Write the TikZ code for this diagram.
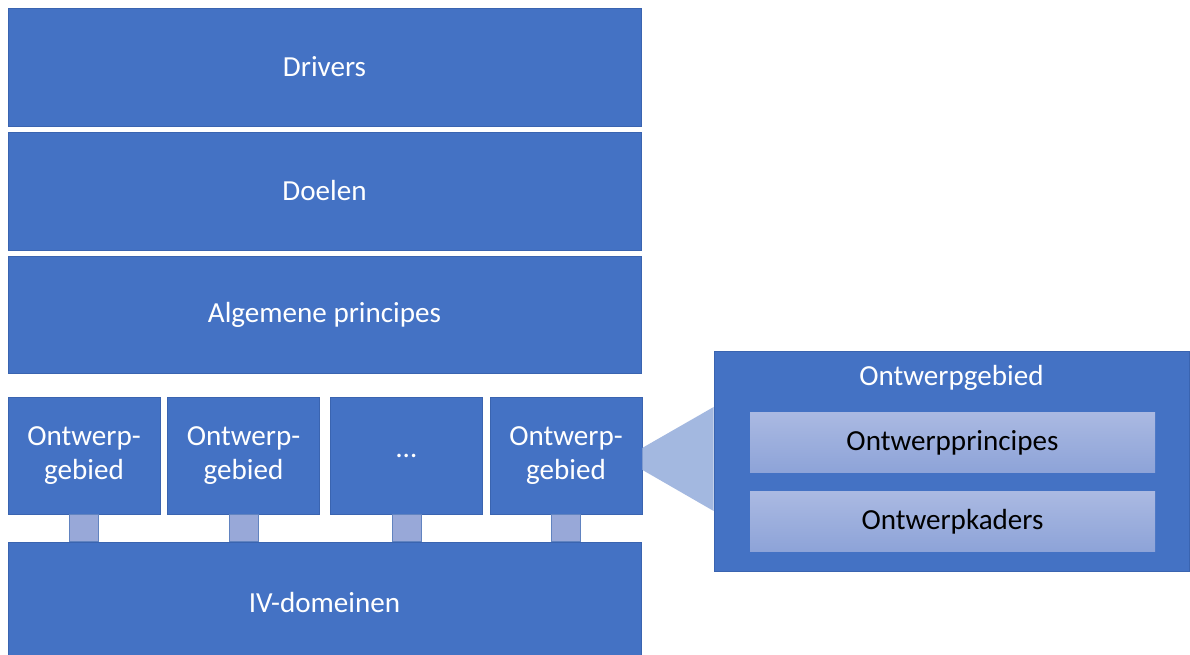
\documentclass[tikz,border=0pt]{standalone}
\usepackage{fontspec}
\setmainfont{Carlito}
\usepackage{tikz}
\usetikzlibrary{calc}
\definecolor{vlak}{HTML}{4472C4}
\definecolor{rand}{HTML}{3A64B0}
\definecolor{licht}{HTML}{A3B8E0}
\definecolor{kop}{HTML}{AAB9E2}
\definecolor{voet}{HTML}{8DA3D8}
\definecolor{stiftkleur}{HTML}{98A8D8}

\begin{document}
\begin{tikzpicture}[
laag/.style={draw=rand, fill=vlak, line width=0.5pt, text=white, inner sep=0pt,
  minimum width=15.825cm, minimum height=2.95cm, font=\fontsize{20.7}{24}\selectfont},
gebied/.style={laag, minimum width=3.8cm, minimum height=2.925cm, align=center},
blok/.style={top color=kop, bottom color=voet, inner sep=0pt,
  minimum width=10.125cm, minimum height=1.5cm, font=\fontsize{20.7}{24}\selectfont},
titel/.style={text=white, inner sep=0pt, font=\fontsize{20.7}{24}\selectfont},
stift/.style={fill=stiftkleur, draw=rand!80, line width=0.4pt}]
\useasboundingbox[fill=white] (0,0) rectangle (29.75,16.375);
\node[laag] (drivers) at (8.1125,14.7) {Drivers};
\node[laag] (doelen) at (8.1125,11.6) {Doelen};
\node[laag, minimum height=2.925cm] (algemeen) at (8.1125,8.5125) {Algemene principes};
\node[gebied] (og1) at (2.1,4.9875) {Ontwerp-\\gebied};
\node[gebied] (og2) at (6.0875,4.9875) {Ontwerp-\\gebied};
\node[gebied] (og3) at (10.1625,4.9875) {…};
\node[gebied] (og4) at (14.15,4.9875) {Ontwerp-\\gebied};
\node[laag, minimum height=3.6cm] (iv) at (8.1125,1.025) {\raisebox{0.6cm}{IV-domeinen}};
\foreach \g in {og1,og2,og3,og4}
  \draw[stift] ($(\g.south)+(-0.36,0)$) rectangle ($(\g.south |- iv.north)+(0.36,0)$);
\node[laag, minimum width=11.875cm, minimum height=5.5cm] (detail) at (23.7875,4.85) {};
\node[titel] (kop) at ($(detail.north)+(0,-0.68)$) {Ontwerpgebied};
\node[blok] (principes) at (23.8125,5.3) {Ontwerpprincipes};
\node[blok] (kaders) at (23.8125,3.325) {Ontwerpkaders};
\fill[licht] ($(og4.east)+(0,0.19)$) -- ($(detail.west)+(0,1.35)$)
  -- ($(detail.west)+(0,-1.25)$) -- ($(og4.east)+(0,-0.36)$) -- cycle;
\end{tikzpicture}
\end{document}
